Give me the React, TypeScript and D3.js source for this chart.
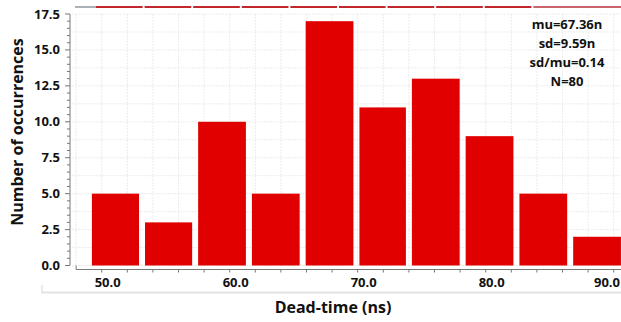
import React, { useEffect, useRef } from 'react';
import * as d3 from 'd3';

// histogram of dead-time values (ns)
const binEdges = [49.0, 53.15, 57.3, 61.5, 65.7, 69.9, 74.0, 78.2, 82.4, 86.6, 90.8];
const counts = [5, 3, 10, 5, 17, 11, 13, 9, 5, 2];
const xTickLabels = [50, 60, 70, 80, 90];
const yTickLabels = [0, 2.5, 5, 7.5, 10, 12.5, 15, 17.5];
const statsLines = ['mu=67.36n', 'sd=9.59n', 'sd/mu=0.14', 'N=80'];

const W = 621;
const H = 322;
const FONT = '"Open Sans", "DejaVu Sans", sans-serif';

export default function App() {
  const ref = useRef<SVGSVGElement>(null);

  useEffect(() => {
    const svg = d3.select(ref.current);
    svg.selectAll('*').remove();

    const x = d3.scaleLinear().domain([50, 90]).range([101.7, 613.7]);
    const y = d3.scaleLinear().domain([0, 17.5]).range([265.5, 14]);
    const axisY = 269.5;
    const axisX = 70;

    // faint grid
    const grid = svg.append('g').attr('stroke', '#ececec').attr('stroke-width', 1).attr('stroke-dasharray', '2,1');
    grid.selectAll('.vg')
      .data(d3.range(48, 91, 2))
      .enter().append('line')
      .attr('x1', d => x(d)).attr('x2', d => x(d))
      .attr('y1', y(17.5)).attr('y2', y(0));
    grid.selectAll('.hg')
      .data(d3.range(0, 17.6, 1.25))
      .enter().append('line')
      .attr('x1', axisX + 2).attr('x2', W)
      .attr('y1', d => y(d)).attr('y2', d => y(d));

    // decorative strip on top (edge of a neighbouring plot)
    const strip = d3.scaleBand().domain(d3.range(counts.length).map(String)).range([96, 580]).paddingInner(0.04);
    svg.append('line')
      .attr('x1', 75).attr('x2', 96).attr('y1', 7).attr('y2', 7)
      .attr('stroke', '#a9b0b8').attr('stroke-width', 2);
    svg.selectAll('.strip')
      .data(counts)
      .enter().append('line')
      .attr('x1', (d, i) => strip(String(i))!)
      .attr('x2', (d, i) => i === counts.length - 1 ? W : strip(String(i))! + strip.bandwidth())
      .attr('y1', 7).attr('y2', 7)
      .attr('stroke', (d, i) => i === counts.length - 1 ? '#c8666a' : '#c0282d')
      .attr('stroke-width', 2);

    // bars
    svg.selectAll('.bar')
      .data(counts)
      .enter().append('rect')
      .attr('x', (d, i) => x(binEdges[i]) + 3)
      .attr('width', (d, i) => x(binEdges[i + 1]) - x(binEdges[i]) - 6)
      .attr('y', d => y(d))
      .attr('height', d => y(0) - y(d))
      .attr('fill', '#e00000');

    // y axis
    const ya = svg.append('g');
    ya.append('line')
      .attr('x1', axisX).attr('x2', axisX)
      .attr('y1', y(17.5)).attr('y2', y(0))
      .attr('stroke', '#777').attr('stroke-width', 1);
    ya.selectAll('.ymin')
      .data(d3.range(0, 17.6, 0.5))
      .enter().append('line')
      .attr('x1', d => (d % 2.5 === 0 ? axisX - 5 : axisX - 3)).attr('x2', axisX)
      .attr('y1', d => y(d)).attr('y2', d => y(d))
      .attr('stroke', '#777').attr('stroke-width', 1);
    ya.selectAll('.ylab')
      .data(yTickLabels)
      .enter().append('text')
      .attr('x', 60)
      .attr('y', d => y(d))
      .attr('dy', '0.35em')
      .attr('text-anchor', 'end')
      .attr('font-family', FONT)
      .attr('font-weight', 'bold')
      .attr('font-size', 13)
      .attr('fill', '#111')
      .text(d => d.toFixed(1));

    // x axis
    const xa = svg.append('g');
    xa.append('line')
      .attr('x1', x(48)).attr('x2', W)
      .attr('y1', axisY).attr('y2', axisY)
      .attr('stroke', '#777').attr('stroke-width', 1);
    xa.selectAll('.xt')
      .data(d3.range(48, 91, 2))
      .enter().append('line')
      .attr('x1', d => x(d)).attr('x2', d => x(d))
      .attr('y1', axisY).attr('y2', d => (d === 48 ? axisY - 4 : axisY + 3))
      .attr('stroke', '#777').attr('stroke-width', 1);
    xa.selectAll('.xlab')
      .data(xTickLabels)
      .enter().append('text')
      .attr('x', d => (d === 90 ? W - 1 : x(d) + 6))
      .attr('y', 287)
      .attr('text-anchor', d => (d === 90 ? 'end' : 'middle'))
      .attr('font-family', FONT)
      .attr('font-weight', 'bold')
      .attr('font-size', 13)
      .attr('fill', '#111')
      .text(d => d.toFixed(1));

    // light frame line below the axis
    svg.append('line')
      .attr('x1', 42).attr('x2', W).attr('y1', 292.5).attr('y2', 292.5)
      .attr('stroke', '#e2e2e2').attr('stroke-width', 2);
    svg.append('line')
      .attr('x1', 42).attr('x2', 42).attr('y1', 285).attr('y2', 293)
      .attr('stroke', '#d6d6d6').attr('stroke-width', 1);

    // axis titles
    svg.append('text')
      .attr('x', 333).attr('y', 313)
      .attr('text-anchor', 'middle')
      .attr('font-family', FONT)
      .attr('font-weight', 'bold')
      .attr('font-size', 16)
      .attr('fill', '#111')
      .text('Dead-time (ns)');
    svg.append('text')
      .attr('transform', 'translate(23,132) rotate(-90)')
      .attr('text-anchor', 'middle')
      .attr('font-family', FONT)
      .attr('font-weight', 'bold')
      .attr('font-size', 16)
      .attr('fill', '#111')
      .text('Number of occurrences');

    // stats box
    svg.selectAll('.stat')
      .data(statsLines)
      .enter().append('text')
      .attr('x', 567)
      .attr('y', (d, i) => 29 + i * 19)
      .attr('text-anchor', 'middle')
      .attr('font-family', FONT)
      .attr('font-weight', 'bold')
      .attr('font-size', 13)
      .attr('fill', '#111')
      .text(d => d);
  }, []);

  return (
    <svg
      ref={ref}
      width={W}
      height={H}
      style={{ position: 'absolute', left: 0, top: 0, background: '#fff' }}
    />
  );
}
